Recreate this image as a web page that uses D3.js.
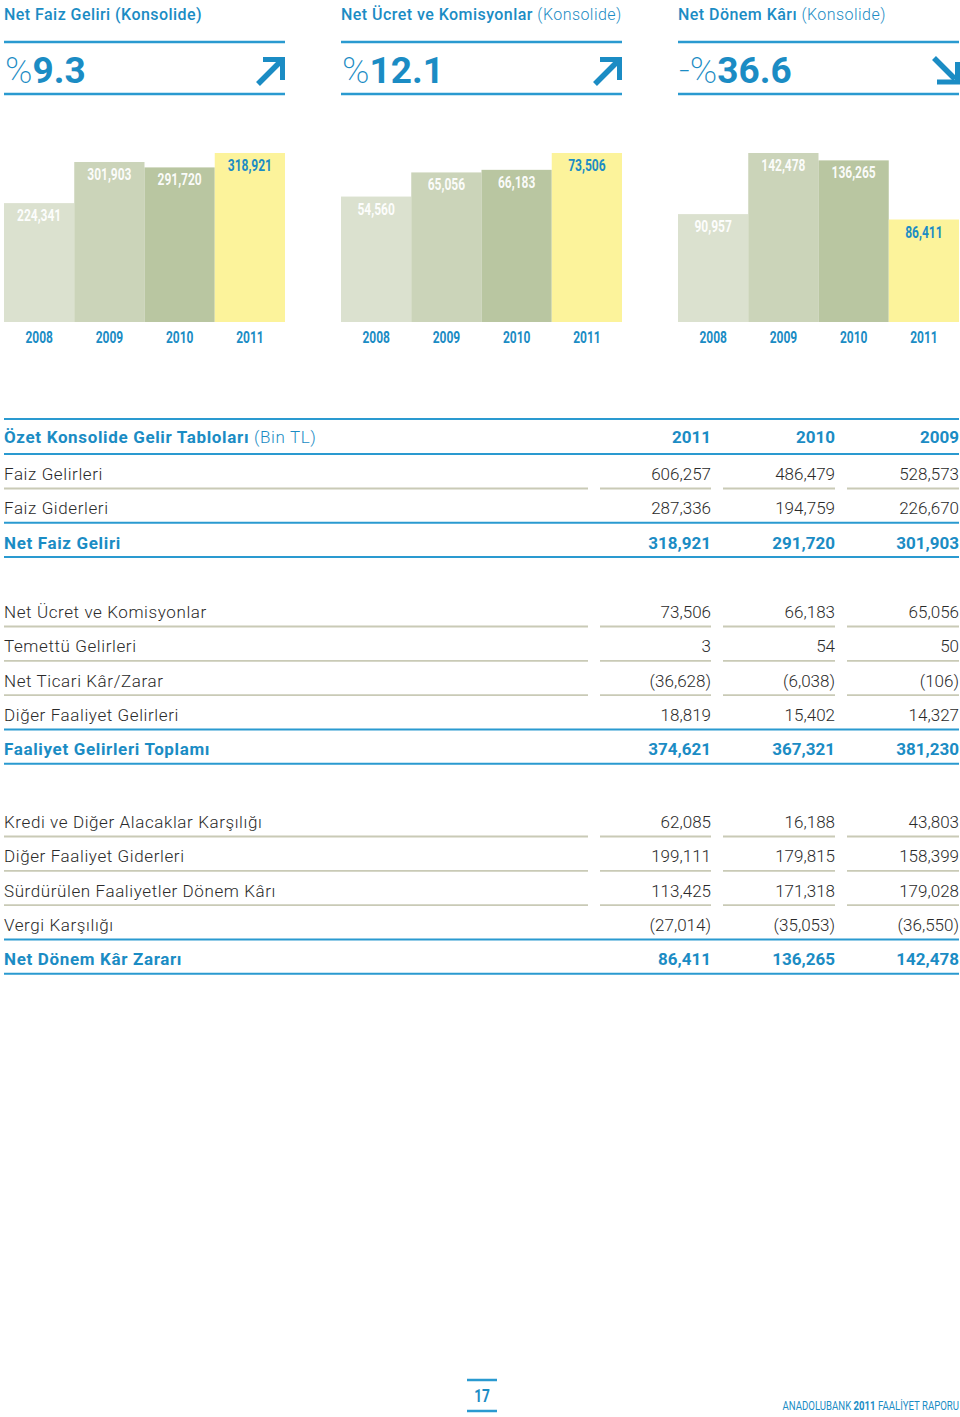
<!DOCTYPE html>
<html><head><meta charset="utf-8">
<script src="https://cdn.jsdelivr.net/npm/d3@7/dist/d3.min.js"></script>
<style>
html,body{margin:0;padding:0;background:#fff;}
svg{display:block;}
</style></head>
<body>
<script>
// ---------- DATA ----------
const years = ["2008", "2009", "2010", "2011"];
const panelTitles = ["Net Faiz Geliri", "Net Ücret ve Komisyonlar", "Net Dönem Kârı"];
const panelSubtitles = ["(Konsolide)", "(Konsolide)", "(Konsolide)"];
const panelSign = ["", "", "-"];
const panelChange = ["9.3", "12.1", "36.6"];
const panelDirection = ["up", "up", "down"];
const netFaizGeliri = [224341, 301903, 291720, 318921];
const netUcretKomisyon = [54560, 65056, 66183, 73506];
const netDonemKari = [90957, 142478, 136265, 86411];

const tableTitle = "Özet Konsolide Gelir Tabloları";
const tableUnit = "(Bin TL)";
const tableYears = ["2011", "2010", "2009"];
const section1Labels = ["Faiz Gelirleri", "Faiz Giderleri", "Net Faiz Geliri"];
const section1Values = [["606,257","486,479","528,573"],["287,336","194,759","226,670"],["318,921","291,720","301,903"]];
const section2Labels = ["Net Ücret ve Komisyonlar", "Temettü Gelirleri", "Net Ticari Kâr/Zarar", "Diğer Faaliyet Gelirleri", "Faaliyet Gelirleri Toplamı"];
const section2Values = [["73,506","66,183","65,056"],["3","54","50"],["(36,628)","(6,038)","(106)"],["18,819","15,402","14,327"],["374,621","367,321","381,230"]];
const section3Labels = ["Kredi ve Diğer Alacaklar Karşılığı", "Diğer Faaliyet Giderleri", "Sürdürülen Faaliyetler Dönem Kârı", "Vergi Karşılığı", "Net Dönem Kâr Zararı"];
const section3Values = [["62,085","16,188","43,803"],["199,111","179,815","158,399"],["113,425","171,318","179,028"],["(27,014)","(35,053)","(36,550)"],["86,411","136,265","142,478"]];

const pageNumber = "17";
const footerParts = ["ANADOLUBANK ", "2011", " FAALİYET RAPORU"];

// ---------- STYLE ----------
const BLUE = "#1b8cc4";
const LINE_BLUE = "#2a9ad0";
const GREY_LINE = "#c9cab6";
const TEXT = "#2a2a2a";
const barColors = ["#dbe1cf", "#cbd4b9", "#b9c6a1", "#fcf39b"];
const SANS = "Roboto, 'Noto Sans', sans-serif";
const NARROW = "Roboto, 'Noto Sans', sans-serif";
const CONDENSE = 0.75;

const W = 960, H = 1417;
const svg = d3.select("body").append("svg").attr("width", W).attr("height", H);

// ---------- HEADER PANELS ----------
const panelX = [4, 341, 678];
const panelW = 281;
const series = [netFaizGeliri, netUcretKomisyon, netDonemKari];

panelX.forEach((px, i) => {
  const g = svg.append("g");
  const t = g.append("text").attr("x", px).attr("y", 20)
    .attr("font-family", SANS).attr("font-size", 16).attr("fill", BLUE)
    .attr("letter-spacing", 0.45);
  t.append("tspan").attr("font-weight", 500).text(panelTitles[i] + " ");
  t.append("tspan").attr("font-weight", i === 0 ? 500 : 300).text(panelSubtitles[i]);

  g.append("line").attr("x1", px).attr("x2", px + panelW).attr("y1", 42).attr("y2", 42)
    .attr("stroke", LINE_BLUE).attr("stroke-width", 2.5);
  g.append("line").attr("x1", px).attr("x2", px + panelW).attr("y1", 94).attr("y2", 94)
    .attr("stroke", LINE_BLUE).attr("stroke-width", 2.5);

  const big = g.append("text").attr("x", px + 1).attr("y", 83)
    .attr("font-family", SANS).attr("font-size", 37).attr("fill", BLUE);
  if (panelSign[i]) big.append("tspan").attr("font-weight", 200).text(panelSign[i]);
  big.append("tspan").attr("font-weight", 200).text("%");
  big.append("tspan").attr("font-weight", 700).text(panelChange[i]);

  // arrow
  const ax = px + panelW;
  if (panelDirection[i] === "up") {
    g.append("path")
      .attr("d", `M${ax-27},${84} L${ax-4},${61}`)
      .attr("stroke", BLUE).attr("stroke-width", 5.5).attr("fill", "none");
    g.append("path")
      .attr("d", `M${ax-22},${59.5} L${ax-2.5},${59.5} L${ax-2.5},${80}`)
      .attr("stroke", BLUE).attr("stroke-width", 5).attr("fill", "none");
  } else {
    g.append("path")
      .attr("d", `M${ax-25},${58} L${ax-4},${79}`)
      .attr("stroke", BLUE).attr("stroke-width", 5.5).attr("fill", "none");
    g.append("path")
      .attr("d", `M${ax-22},${82} L${ax-1.5},${82} L${ax-1.5},${62}`)
      .attr("stroke", BLUE).attr("stroke-width", 5).attr("fill", "none");
  }

  // bars
  const baseY = 322, maxH = 169;
  const x = d3.scaleBand().domain(years).range([px, px + panelW]).padding(0);
  const y = d3.scaleLinear().domain([0, d3.max(series[i])]).range([baseY, baseY - maxH]);
  const bars = g.append("g");
  bars.selectAll("rect").data(series[i]).join("rect")
    .attr("x", (d, j) => x(years[j]))
    .attr("width", x.bandwidth())
    .attr("y", d => y(d))
    .attr("height", d => baseY - y(d))
    .attr("fill", (d, j) => barColors[j]);
  bars.selectAll("text.val").data(series[i]).join("text").attr("class", "val")
    .attr("x", 0).attr("y", 0)
    .attr("transform", (d, j) => `translate(${x(years[j]) + x.bandwidth() / 2},${y(d) + 18}) scale(${CONDENSE},1)`)
    .attr("text-anchor", "middle")
    .attr("font-family", NARROW).attr("font-weight", 700).attr("font-size", 16)
    .attr("fill", (d, j) => j === 3 ? BLUE : "rgba(255,255,255,0.95)")
    .text(d => d3.format(",")(d));
  const xAxis = d3.axisBottom(x).tickSize(0).tickPadding(0);
  const ag = g.append("g").attr("transform", `translate(0,${343})`).call(xAxis);
  ag.select(".domain").remove();
  ag.selectAll("text").attr("dy", 0).attr("y", 0)
    .attr("transform", `scale(${CONDENSE},1)`)
    .attr("font-family", NARROW).attr("font-weight", 700).attr("font-size", 16)
    .attr("fill", BLUE);
});

// ---------- TABLE ----------
const colRight = [711, 835, 959];
const colLeft = [600, 723, 847];
const labelSeg = [4, 588];
const tg = svg.append("g");

function hline(y, color, sw) {
  tg.append("line").attr("x1", 4).attr("x2", 959).attr("y1", y).attr("y2", y)
    .attr("stroke", color).attr("stroke-width", sw);
}
function greySegments(y) {
  const segs = [labelSeg].concat(colLeft.map((l, k) => [l, colRight[k]]));
  segs.forEach(s => tg.append("line").attr("x1", s[0]).attr("x2", s[1]).attr("y1", y).attr("y2", y)
    .attr("stroke", GREY_LINE).attr("stroke-width", 1.8));
}

hline(419, LINE_BLUE, 2);
const ht = tg.append("text").attr("x", 4).attr("y", 443)
  .attr("font-family", SANS).attr("font-size", 17).attr("fill", BLUE);
ht.append("tspan").attr("font-weight", 700).attr("letter-spacing", 0.65).text(tableTitle + " ");
ht.append("tspan").attr("font-weight", 300).attr("letter-spacing", 0.6).text(tableUnit);
tableYears.forEach((yr, k) => {
  tg.append("text").attr("x", colRight[k]).attr("y", 443).attr("text-anchor", "end")
    .attr("font-family", SANS).attr("font-weight", 700).attr("font-size", 17).attr("fill", BLUE).text(yr);
});
hline(454, LINE_BLUE, 2);

const PITCH = 34.3;
function section(labels, values, startBaseline) {
  labels.forEach((lab, r) => {
    const base = startBaseline + r * PITCH;
    const isTotal = r === labels.length - 1;
    const color = isTotal ? BLUE : TEXT;
    const wt = isTotal ? 700 : 300;
    tg.append("text").attr("x", 4).attr("y", base)
      .attr("font-family", SANS).attr("font-size", 17).attr("font-weight", wt).attr("fill", color)
      .attr("letter-spacing", isTotal ? 0.65 : 0.6).text(lab);
    values[r].forEach((v, k) => {
      tg.append("text").attr("x", colRight[k]).attr("y", base).attr("text-anchor", "end")
        .attr("font-family", SANS).attr("font-size", 17).attr("font-weight", wt).attr("fill", color).text(v);
    });
    const ly = base + 8.5;
    if (r >= labels.length - 2) hline(ly, LINE_BLUE, 2);
    else greySegments(ly);
  });
}
section(section1Labels, section1Values, 480);
section(section2Labels, section2Values, 618);
section(section3Labels, section3Values, 828);

// ---------- FOOTER ----------
const fg = svg.append("g");
fg.append("line").attr("x1", 467).attr("x2", 497).attr("y1", 1380).attr("y2", 1380).attr("stroke", LINE_BLUE).attr("stroke-width", 2.5);
fg.append("line").attr("x1", 467).attr("x2", 497).attr("y1", 1411).attr("y2", 1411).attr("stroke", LINE_BLUE).attr("stroke-width", 2.5);
fg.append("text").attr("x", 0).attr("y", 0).attr("transform", `translate(482,1402) scale(0.72,1)`)
  .attr("text-anchor", "middle")
  .attr("font-family", NARROW).attr("font-weight", 700).attr("font-size", 19).attr("fill", BLUE).text(pageNumber);
const ft = fg.append("text").attr("x", 0).attr("y", 0).attr("transform", `translate(959,1410) scale(0.74,1)`)
  .attr("text-anchor", "end")
  .attr("font-family", NARROW).attr("font-size", 13).attr("fill", BLUE);
ft.append("tspan").text(footerParts[0]);
ft.append("tspan").attr("font-weight", 700).text(footerParts[1]);
ft.append("tspan").text(footerParts[2]);
</script>
</body></html>
